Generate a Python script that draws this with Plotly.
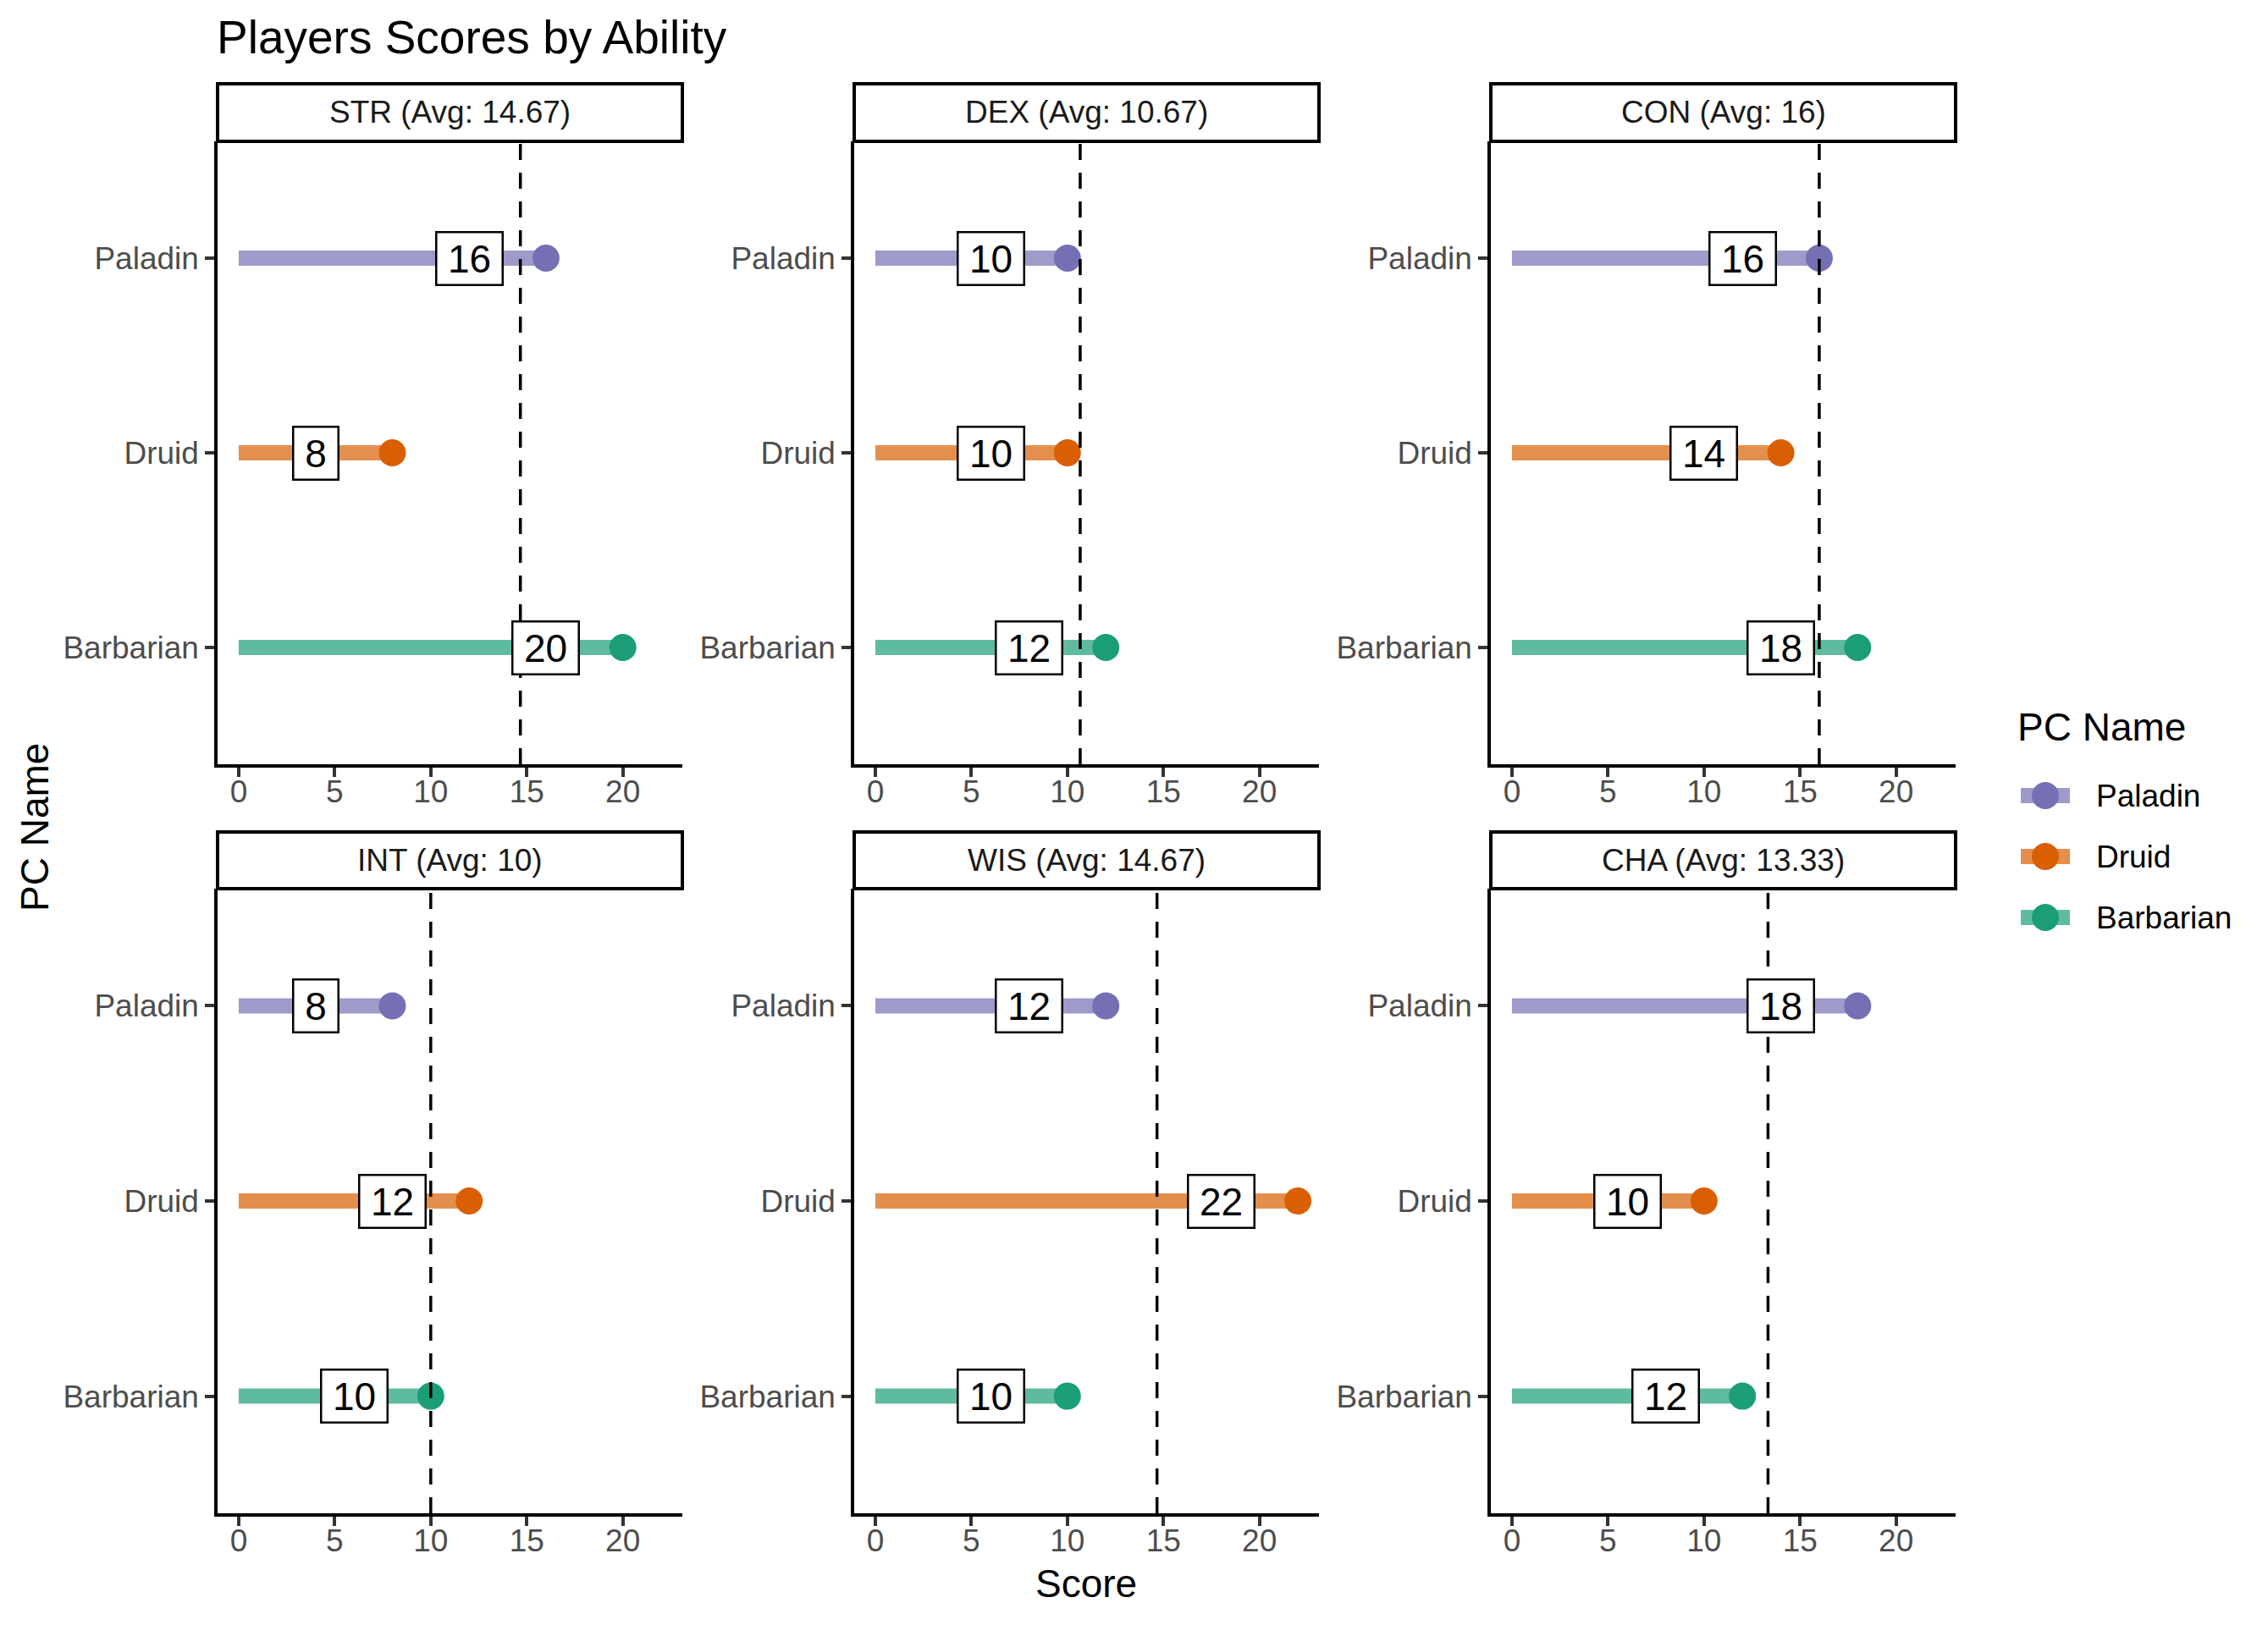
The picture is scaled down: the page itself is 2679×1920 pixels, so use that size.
import plotly.graph_objects as go

# ---------------- data ----------------
abilities = ["STR", "DEX", "CON", "INT", "WIS", "CHA"]
pc_names = ["Paladin", "Druid", "Barbarian"]
paladin_scores = [16, 10, 16, 8, 12, 18]
druid_scores = [8, 10, 14, 12, 22, 10]
barbarian_scores = [20, 12, 18, 10, 10, 12]
x_tick_vals = [0, 5, 10, 15, 20]
scores = {"Paladin": paladin_scores, "Druid": druid_scores, "Barbarian": barbarian_scores}

point_colors = {"Paladin": "#7570B3", "Druid": "#D95F02", "Barbarian": "#1B9E77"}
line_colors = {"Paladin": "rgba(117,112,179,0.7)", "Druid": "rgba(217,95,2,0.7)",
               "Barbarian": "rgba(27,158,119,0.7)"}
label_offset = 4

# ---------------- geometry (pixels in the page) ----------------
W, H = 2679, 1920
OFF = 8                      # default body margin of the page
FW, FH = W - 2 * OFF, H - 2 * OFF
col_px = [(257, 806), (1009, 1558), (1761, 2310)]
row_px = [(167, 903), (1050, 1788)]        # panel top, bottom
strip_px = [(99, 167), (983, 1050)]        # strip top, bottom
FONT = "Liberation Sans, Arial, Helvetica, sans-serif"


def px_x(v):
    return (v - OFF) / FW


def px_y(v):
    return 1 - (v - OFF) / FH


fig = go.Figure()
shapes = []
annotations = []

for k, ab in enumerate(abilities):
    r, c = divmod(k, 3)
    idx = k + 1
    xa = "x" if idx == 1 else f"x{idx}"
    ya = "y" if idx == 1 else f"y{idx}"
    vals = [scores[n][k] for n in pc_names]
    avg = sum(vals) / len(vals)
    avg_txt = f"{round(avg, 2):g}"

    # segments
    for n in pc_names:
        v = scores[n][k]
        fig.add_trace(go.Scatter(x=[0, v], y=[n, n], mode="lines", xaxis=xa, yaxis=ya,
                                 line=dict(color=line_colors[n], width=18),
                                 showlegend=False, hoverinfo="skip"))
    # points
    for n in pc_names:
        v = scores[n][k]
        fig.add_trace(go.Scatter(x=[v], y=[n], mode="markers", xaxis=xa, yaxis=ya, name=n,
                                 marker=dict(color=point_colors[n], size=32, line=dict(width=0)),
                                 showlegend=False))
    # average line
    shapes.append(dict(type="line", xref=xa, yref=f"{ya} domain", x0=avg, x1=avg, y0=0, y1=1,
                       line=dict(color="black", width=3.5, dash="19px,15px"), layer="above"))
    # value labels
    for n in pc_names:
        v = scores[n][k]
        t = str(v)
        annotations.append(dict(x=v - label_offset, y=n, xref=xa, yref=ya, text=t,
                                showarrow=False, font=dict(family=FONT, size=46, color="black"),
                                bgcolor="white", bordercolor="black", borderwidth=2.5,
                                borderpad=0, width=25 * len(t) + 26, height=60))

    x0, x1 = col_px[c]
    t0, b0 = row_px[r]
    fig.layout[f"xaxis{'' if idx == 1 else idx}"] = dict(
        domain=[px_x(x0), px_x(x1)], anchor=ya, range=[-1.1, 23.1],
        tickvals=x_tick_vals, showgrid=False, zeroline=False, showline=True,
        linecolor="black", linewidth=3.5, ticks="outside", ticklen=11, tickwidth=3.5,
        tickcolor="#333333", ticklabelstandoff=-14,
        tickfont=dict(family=FONT, size=37, color="#4D4D4D"))
    fig.layout[f"yaxis{'' if idx == 1 else idx}"] = dict(
        domain=[px_y(b0), px_y(t0)], anchor=xa, type="category",
        categoryorder="array", categoryarray=pc_names[::-1], range=[-0.6, 2.6],
        showgrid=False, zeroline=False, showline=True, linecolor="black", linewidth=3.5,
        ticks="outside", ticklen=11, tickwidth=3.5, tickcolor="#333333",
        tickfont=dict(family=FONT, size=37, color="#4D4D4D"))

    # strip
    s0, s1 = strip_px[r]
    shapes.append(dict(type="rect", xref="paper", yref="paper", x0=px_x(x0), x1=px_x(x1),
                       y0=px_y(s1), y1=px_y(s0), line=dict(color="black", width=4),
                       fillcolor="white", layer="above"))
    annotations.append(dict(x=px_x((x0 + x1) / 2), y=px_y((s0 + s1) / 2), xref="paper",
                            yref="paper", text=f"{ab} (Avg: {avg_txt})", showarrow=False,
                            xanchor="center", yanchor="middle",
                            font=dict(family=FONT, size=37, color="#1A1A1A")))

# axis titles
annotations.append(dict(x=px_x(1283), y=px_y(1871), xref="paper", yref="paper", text="Score",
                        showarrow=False, xanchor="center", yanchor="middle",
                        font=dict(family=FONT, size=46, color="black")))
annotations.append(dict(x=px_x(41), y=px_y(978), xref="paper", yref="paper", text="PC Name",
                        showarrow=False, textangle=-90, xanchor="center", yanchor="middle",
                        font=dict(family=FONT, size=46, color="black")))

# legend (drawn as key glyphs)
annotations.append(dict(x=px_x(2381), y=px_y(859), xref="paper", yref="paper", text="PC Name",
                        showarrow=False, xanchor="left", yanchor="middle",
                        font=dict(family=FONT, size=46, color="black")))
for i, n in enumerate(pc_names):
    yc = 940 + 72 * i
    shapes.append(dict(type="line", xref="paper", yref="paper", x0=px_x(2387), x1=px_x(2445),
                       y0=px_y(yc), y1=px_y(yc), line=dict(color=line_colors[n], width=18)))
    shapes.append(dict(type="circle", xref="paper", yref="paper", x0=px_x(2400), x1=px_x(2432),
                       y0=px_y(yc + 16), y1=px_y(yc - 16), fillcolor=point_colors[n],
                       line=dict(width=0)))
    annotations.append(dict(x=px_x(2474), y=px_y(yc), xref="paper", yref="paper", text=n,
                            showarrow=False, xanchor="left", yanchor="middle",
                            font=dict(family=FONT, size=37, color="black")))

fig.update_layout(
    width=FW, height=FH, autosize=False,
    margin=dict(l=0, r=0, t=0, b=0),
    paper_bgcolor="white", plot_bgcolor="white",
    title=dict(text="Players Scores by Ability", x=px_x(256), xanchor="left",
               y=px_y(44), yanchor="middle", font=dict(family=FONT, size=55, color="black")),
    shapes=shapes, annotations=annotations, showlegend=False,
)

fig.write_html("out.html")
